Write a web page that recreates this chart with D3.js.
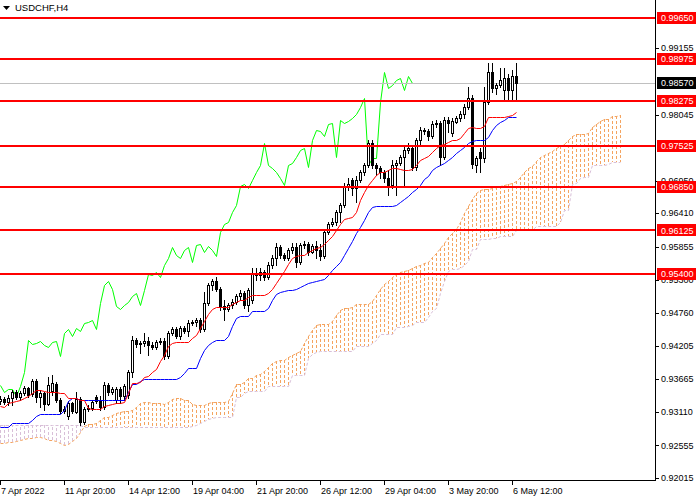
<!DOCTYPE html>
<html>
<head>
<meta charset="utf-8">
<script src="https://cdn.jsdelivr.net/npm/d3@7"></script>
<style>
body { margin: 0; background: #fff; }
svg { display: block; }
</style>
</head>
<body>
<div id="drawArea"></div>
<script>
var symbolTitle = "USDCHF,H4";

// H4 candles, bar 0 = 7 Apr 2022
var openPrices = [
0.9329,0.9333,0.9328,0.9335,0.9345,0.9336,0.9343,0.9351,0.9340,0.9362,
0.9336,0.9343,0.9324,0.9345,0.9357,0.9331,0.9312,0.9304,0.9326,0.9312,
0.9333,0.9295,0.9316,0.9318,0.9336,0.9329,0.9319,0.9356,0.9345,0.9331,
0.9350,0.9338,0.9340,0.9378,0.9431,0.9424,0.9426,0.9429,0.9423,0.9419,
0.9428,0.9429,0.9404,0.9442,0.9449,0.9437,0.9450,0.9445,0.9459,0.9461,
0.9464,0.9449,0.9492,0.9522,0.9528,0.9515,0.9487,0.9482,0.9489,0.9494,
0.9504,0.9509,0.9489,0.9497,0.9540,0.9539,0.9544,0.9535,0.9555,0.9567,
0.9585,0.9572,0.9567,0.9580,0.9585,0.9560,0.9588,0.9590,0.9577,0.9587,
0.9580,0.9570,0.9610,0.9623,0.9627,0.9644,0.9655,0.9686,0.9696,0.9683,
0.9696,0.9710,0.9722,0.9758,0.9722,0.9717,0.9710,0.9700,0.9688,0.9722,
0.9725,0.9735,0.9746,0.9749,0.9718,0.9763,0.9779,0.9777,0.9769,0.9789,
0.9791,0.9735,0.9796,0.9774,0.9793,0.9799,0.9806,0.9817,0.9832,0.9722,
0.9743,0.9733,0.9826,0.9876,0.9849,0.9854,0.9846,0.9866,0.9846,0.9869];

var highPrices = [
0.9338,0.9336,0.9340,0.9348,0.9348,0.9346,0.9354,0.9352,0.9366,0.9366,
0.9348,0.9345,0.9369,0.9373,0.9361,0.9335,0.9321,0.9329,0.9328,0.9345,
0.9336,0.9319,0.9323,0.9331,0.9340,0.9338,0.9361,0.9359,0.9352,0.9352,
0.9352,0.9357,0.9381,0.9437,0.9434,0.9429,0.9442,0.9436,0.9428,0.9431,
0.9434,0.9434,0.9445,0.9452,0.9452,0.9454,0.9454,0.9464,0.9464,0.9467,
0.9467,0.9511,0.9525,0.9532,0.9535,0.9518,0.9497,0.9492,0.9499,0.9507,
0.9514,0.9512,0.9517,0.9550,0.9550,0.9550,0.9547,0.9560,0.9572,0.9592,
0.9588,0.9575,0.9583,0.9592,0.9592,0.9592,0.9595,0.9594,0.9590,0.9595,
0.9590,0.9613,0.9627,0.9633,0.9647,0.9658,0.9691,0.9699,0.9699,0.9703,
0.9713,0.9725,0.9763,0.9763,0.9725,0.9720,0.9713,0.9713,0.9730,0.9730,
0.9738,0.9751,0.9758,0.9754,0.9766,0.9784,0.9782,0.9781,0.9794,0.9796,
0.9794,0.9801,0.9801,0.9799,0.9803,0.9811,0.9822,0.9850,0.9837,0.9737,
0.9749,0.9850,0.9891,0.9891,0.9858,0.9882,0.9882,0.9872,0.9879,0.9891];

var lowPrices = [
0.9324,0.9324,0.9323,0.9323,0.9333,0.9331,0.9340,0.9336,0.9338,0.9328,
0.9319,0.9314,0.9323,0.9340,0.9328,0.9309,0.9309,0.9299,0.9309,0.9309,
0.9290,0.9291,0.9312,0.9314,0.9326,0.9314,0.9316,0.9340,0.9341,0.9326,
0.9326,0.9331,0.9335,0.9369,0.9419,0.9409,0.9421,0.9406,0.9416,0.9416,
0.9424,0.9399,0.9401,0.9439,0.9434,0.9432,0.9442,0.9437,0.9456,0.9454,
0.9444,0.9445,0.9489,0.9514,0.9512,0.9481,0.9464,0.9479,0.9484,0.9490,
0.9497,0.9484,0.9478,0.9492,0.9530,0.9530,0.9530,0.9532,0.9550,0.9555,
0.9567,0.9564,0.9564,0.9575,0.9552,0.9557,0.9583,0.9572,0.9575,0.9567,
0.9564,0.9567,0.9606,0.9620,0.9622,0.9627,0.9652,0.9680,0.9672,0.9660,
0.9693,0.9705,0.9718,0.9717,0.9705,0.9700,0.9693,0.9672,0.9683,0.9672,
0.9722,0.9688,0.9741,0.9713,0.9713,0.9755,0.9772,0.9763,0.9766,0.9784,
0.9722,0.9732,0.9776,0.9769,0.9791,0.9794,0.9799,0.9814,0.9717,0.9710,
0.9710,0.9727,0.9822,0.9842,0.9839,0.9851,0.9829,0.9829,0.9829,0.9829];

var closePrices = [
0.9333,0.9328,0.9335,0.9345,0.9336,0.9343,0.9351,0.9340,0.9362,0.9336,
0.9343,0.9324,0.9356,0.9359,0.9331,0.9312,0.9316,0.9326,0.9312,0.9333,
0.9295,0.9316,0.9318,0.9328,0.9329,0.9319,0.9356,0.9345,0.9350,0.9350,
0.9338,0.9354,0.9378,0.9431,0.9424,0.9426,0.9429,0.9423,0.9419,0.9428,
0.9429,0.9404,0.9442,0.9449,0.9437,0.9450,0.9445,0.9459,0.9461,0.9464,
0.9449,0.9492,0.9522,0.9528,0.9515,0.9487,0.9482,0.9489,0.9494,0.9504,
0.9509,0.9489,0.9514,0.9540,0.9539,0.9544,0.9535,0.9555,0.9567,0.9585,
0.9572,0.9567,0.9580,0.9585,0.9560,0.9588,0.9590,0.9577,0.9587,0.9580,
0.9570,0.9610,0.9623,0.9627,0.9644,0.9655,0.9686,0.9689,0.9683,0.9696,
0.9710,0.9722,0.9758,0.9722,0.9717,0.9710,0.9700,0.9688,0.9722,0.9725,
0.9735,0.9746,0.9749,0.9718,0.9763,0.9779,0.9777,0.9769,0.9789,0.9791,
0.9735,0.9796,0.9791,0.9794,0.9799,0.9806,0.9817,0.9832,0.9722,0.9733,
0.9733,0.9826,0.9876,0.9849,0.9854,0.9862,0.9866,0.9846,0.9869,0.9857];

// Ichimoku lines
var tenkanSen = [
0.9321,0.9319,0.9326,0.9328,0.9329,0.9331,0.9335,0.9338,0.9343,0.9348,
0.9348,0.9346,0.9345,0.9345,0.9345,0.9343,0.9343,0.9335,0.9335,0.9335,
0.9331,0.9331,0.9318,0.9316,0.9316,0.9316,0.9321,0.9323,0.9324,0.9326,
0.9326,0.9328,0.9343,0.9359,0.9359,0.9361,0.9369,0.9371,0.9378,0.9383,
0.9395,0.9406,0.9421,0.9426,0.9428,0.9428,0.9428,0.9428,0.9434,0.9439,
0.9450,0.9462,0.9474,0.9482,0.9485,0.9485,0.9485,0.9485,0.9490,0.9494,
0.9497,0.9497,0.9502,0.9506,0.9506,0.9506,0.9506,0.9509,0.9515,0.9525,
0.9535,0.9545,0.9557,0.9567,0.9570,0.9572,0.9572,0.9577,0.9580,0.9583,
0.9585,0.9590,0.9597,0.9603,0.9613,0.9623,0.9632,0.9633,0.9635,0.9644,
0.9663,0.9677,0.9688,0.9696,0.9705,0.9710,0.9710,0.9713,0.9717,0.9717,
0.9715,0.9713,0.9713,0.9715,0.9722,0.9730,0.9733,0.9737,0.9743,0.9749,
0.9755,0.9756,0.9760,0.9763,0.9763,0.9766,0.9774,0.9782,0.9784,0.9782,
0.9782,0.9786,0.9801,0.9801,0.9801,0.9801,0.9801,0.9803,0.9804,0.9809];

var kijunSen = [
0.9286,0.9286,0.9286,0.9293,0.9293,0.9293,0.9293,0.9293,0.9298,0.9304,
0.9307,0.9307,0.9307,0.9307,0.9307,0.9307,0.9314,0.9329,0.9335,0.9335,
0.9331,0.9331,0.9331,0.9331,0.9331,0.9331,0.9331,0.9331,0.9331,0.9331,
0.9331,0.9331,0.9345,0.9357,0.9357,0.9362,0.9366,0.9366,0.9366,0.9366,
0.9366,0.9366,0.9366,0.9366,0.9366,0.9369,0.9376,0.9384,0.9384,0.9384,
0.9401,0.9414,0.9423,0.9428,0.9431,0.9431,0.9431,0.9437,0.9454,0.9467,
0.9471,0.9471,0.9471,0.9478,0.9478,0.9478,0.9478,0.9484,0.9497,0.9507,
0.9511,0.9512,0.9514,0.9514,0.9515,0.9519,0.9522,0.9525,0.9527,0.9528,
0.9530,0.9532,0.9539,0.9547,0.9554,0.9561,0.9572,0.9583,0.9595,0.9608,
0.9618,0.9630,0.9644,0.9652,0.9653,0.9653,0.9653,0.9653,0.9653,0.9655,
0.9660,0.9665,0.9670,0.9677,0.9681,0.9688,0.9698,0.9703,0.9713,0.9718,
0.9722,0.9725,0.9730,0.9735,0.9741,0.9746,0.9751,0.9758,0.9761,0.9763,
0.9763,0.9763,0.9768,0.9779,0.9788,0.9793,0.9796,0.9801,0.9801,0.9801];

// cloud runs 26 bars past the last candle
var senkouA = [
0.9260,0.9260,0.9262,0.9262,0.9263,0.9265,0.9266,0.9268,0.9268,0.9270,
0.9270,0.9268,0.9265,0.9265,0.9263,0.9260,0.9257,0.9258,0.9263,0.9268,
0.9278,0.9288,0.9291,0.9291,0.9293,0.9298,0.9303,0.9302,0.9306,0.9310,
0.9311,0.9312,0.9313,0.9315,0.9320,0.9326,0.9328,0.9327,0.9326,0.9326,
0.9326,0.9325,0.9328,0.9332,0.9335,0.9335,0.9331,0.9331,0.9324,0.9323,
0.9323,0.9323,0.9326,0.9327,0.9328,0.9328,0.9328,0.9329,0.9343,0.9358,
0.9358,0.9361,0.9368,0.9368,0.9372,0.9374,0.9380,0.9386,0.9393,0.9396,
0.9397,0.9398,0.9402,0.9406,0.9409,0.9412,0.9426,0.9438,0.9448,0.9455,
0.9458,0.9458,0.9458,0.9462,0.9472,0.9481,0.9484,0.9484,0.9486,0.9491,
0.9491,0.9491,0.9491,0.9496,0.9506,0.9516,0.9523,0.9528,0.9535,0.9540,
0.9543,0.9545,0.9547,0.9551,0.9554,0.9556,0.9558,0.9561,0.9568,0.9575,
0.9583,0.9592,0.9602,0.9608,0.9615,0.9626,0.9641,0.9653,0.9665,0.9674,
0.9679,0.9681,0.9681,0.9683,0.9685,0.9686,0.9688,0.9689,0.9691,0.9695,
0.9701,0.9709,0.9716,0.9720,0.9728,0.9734,0.9738,0.9741,0.9745,0.9749,
0.9752,0.9756,0.9763,0.9770,0.9773,0.9773,0.9773,0.9774,0.9784,0.9790,
0.9794,0.9797,0.9798,0.9802,0.9802,0.9805];

var senkouB = [
0.9290,0.9290,0.9290,0.9290,0.9290,0.9290,0.9290,0.9290,0.9290,0.9290,
0.9290,0.9290,0.9290,0.9290,0.9290,0.9290,0.9290,0.9290,0.9290,0.9290,
0.9290,0.9286,0.9286,0.9286,0.9286,0.9286,0.9286,0.9286,0.9286,0.9286,
0.9286,0.9286,0.9286,0.9286,0.9286,0.9286,0.9286,0.9286,0.9286,0.9286,
0.9286,0.9286,0.9286,0.9286,0.9286,0.9286,0.9286,0.9286,0.9288,0.9290,
0.9293,0.9296,0.9300,0.9301,0.9303,0.9303,0.9303,0.9303,0.9303,0.9336,
0.9336,0.9343,0.9346,0.9346,0.9346,0.9346,0.9346,0.9354,0.9354,0.9354,
0.9354,0.9354,0.9354,0.9373,0.9373,0.9373,0.9373,0.9400,0.9408,0.9411,
0.9412,0.9412,0.9412,0.9412,0.9412,0.9412,0.9412,0.9412,0.9412,0.9420,
0.9420,0.9420,0.9420,0.9425,0.9431,0.9441,0.9441,0.9441,0.9441,0.9452,
0.9453,0.9453,0.9454,0.9455,0.9460,0.9460,0.9460,0.9469,0.9479,0.9484,
0.9508,0.9529,0.9545,0.9549,0.9549,0.9551,0.9556,0.9562,0.9581,0.9582,
0.9598,0.9598,0.9598,0.9600,0.9600,0.9603,0.9603,0.9603,0.9604,0.9613,
0.9613,0.9613,0.9613,0.9613,0.9620,0.9620,0.9620,0.9620,0.9620,0.9620,
0.9627,0.9646,0.9646,0.9690,0.9691,0.9700,0.9701,0.9701,0.9721,0.9721,
0.9721,0.9721,0.9723,0.9727,0.9727,0.9727];

var chikouShift = 26;

var levelPrices = [0.99650, 0.98975, 0.98275, 0.97525, 0.96850, 0.96125, 0.95400];
var bidPrice = 0.98570;

// scale labels that are visible (the rest sit under the price tags)
var priceTicks = [0.99155, 0.98045, 0.96950, 0.96410, 0.95855, 0.95300,
	0.94760, 0.94205, 0.93665, 0.93110, 0.92555, 0.92015];

var timeTickBars = [0, 16, 32, 48, 64, 80, 96, 112, 128];
var timeTickLabels = ["7 Apr 2022", "11 Apr 20:00", "14 Apr 12:00", "19 Apr 04:00",
	"21 Apr 20:00", "26 Apr 12:00", "29 Apr 04:00", "3 May 20:00", "6 May 12:00"];

var svg_width = 700;
var svg_height = 500;
var plotW = 655;
var plotH = 480;
var font = "'Liberation Sans', Arial, sans-serif";

var svg = d3.select("#drawArea").append("svg")
	.attr("width", svg_width)
	.attr("height", svg_height)
	.style("font-family", font);

svg.append("rect").attr("width", svg_width).attr("height", svg_height).attr("fill", "#fff");

var x = d3.scaleLinear().domain([0, 163.75]).range([0, plotW]);
var y = d3.scaleLinear().domain([0.919818, 0.999525]).range([plotH, 0]);

function px(i){ return Math.round(x(i)) + 0.5; }
function py(v){ return Math.round(y(v)) + 0.5; }

svg.append("clipPath").attr("id", "plotClip")
	.append("rect").attr("width", plotW).attr("height", plotH);

var plot = svg.append("g").attr("clip-path", "url(#plotClip)");

// cloud: dotted vertical strokes between the two spans
var cloudColorUp = "#f4a460";
var cloudColorDown = "#d8bfd8";

plot.append("g").selectAll("line")
	.data(senkouA)
	.enter().append("line")
		.attr("x1", function(d, i){ return px(i); })
		.attr("x2", function(d, i){ return px(i); })
		.attr("y1", function(d){ return y(d); })
		.attr("y2", function(d, i){ return y(senkouB[i]); })
		.attr("stroke", function(d, i){ return d >= senkouB[i] ? cloudColorUp : cloudColorDown; })
		.attr("stroke-width", 1)
		.attr("stroke-dasharray", "3,2")
		.attr("shape-rendering", "crispEdges");

var spanLine = d3.line()
	.x(function(d, i){ return px(i); })
	.y(function(d){ return py(d); });

plot.append("path").datum(senkouB)
	.attr("d", spanLine)
	.attr("fill", "none")
	.attr("stroke", cloudColorDown)
	.attr("stroke-dasharray", "3,2");

plot.append("path").datum(senkouA)
	.attr("d", spanLine)
	.attr("fill", "none")
	.attr("stroke", cloudColorUp)
	.attr("stroke-dasharray", "3,2");

// chikou span: the closes drawn 26 bars back
var chikouLine = d3.line()
	.x(function(d){ return px(d.i - chikouShift); })
	.y(function(d){ return py(d.v); });

var chikouData = closePrices
	.map(function(v, i){ return {i: i, v: v}; })
	.filter(function(d){ return d.i >= chikouShift; });

plot.append("path").datum(chikouData)
	.attr("d", chikouLine)
	.attr("fill", "none")
	.attr("stroke", "#00ff00")
	.attr("stroke-width", 1);

// bid line
plot.append("line")
	.attr("x1", 0).attr("x2", plotW)
	.attr("y1", py(bidPrice)).attr("y2", py(bidPrice))
	.attr("stroke", "#c0c0c0")
	.attr("stroke-width", 1);

// candles
var candles = plot.append("g").selectAll("g")
	.data(closePrices)
	.enter().append("g");

candles.append("line")
	.attr("x1", function(d, i){ return px(i); })
	.attr("x2", function(d, i){ return px(i); })
	.attr("y1", function(d, i){ return Math.round(y(highPrices[i])); })
	.attr("y2", function(d, i){ return Math.round(y(lowPrices[i])) + 1; })
	.attr("stroke", "#000")
	.attr("shape-rendering", "crispEdges");

candles.append("rect")
	.attr("x", function(d, i){ return Math.round(x(i)) - 0.5; })
	.attr("width", 2)
	.attr("y", function(d, i){ return py(Math.max(d, openPrices[i])); })
	.attr("height", function(d, i){
		return Math.max(1, Math.round(Math.abs(y(d) - y(openPrices[i]))));
	})
	.attr("fill", function(d, i){ return d >= openPrices[i] ? "#fff" : "#000"; })
	.attr("stroke", "#000")
	.attr("stroke-width", 1)
	.attr("shape-rendering", "crispEdges");

// tenkan and kijun
var midLine = d3.line()
	.x(function(d, i){ return px(i); })
	.y(function(d){ return py(d); });

plot.append("path").datum(kijunSen)
	.attr("d", midLine)
	.attr("fill", "none")
	.attr("stroke", "#0000ff")
	.attr("stroke-width", 1);

plot.append("path").datum(tenkanSen)
	.attr("d", midLine)
	.attr("fill", "none")
	.attr("stroke", "#ff0000")
	.attr("stroke-width", 1);

// horizontal levels
plot.append("g").selectAll("line")
	.data(levelPrices)
	.enter().append("line")
		.attr("x1", 0).attr("x2", plotW)
		.attr("y1", function(d){ return Math.round(y(d)); })
		.attr("y2", function(d){ return Math.round(y(d)); })
		.attr("stroke", "#ff0000")
		.attr("stroke-width", 2);

// frame
svg.append("line")
	.attr("x1", plotW + 0.5).attr("x2", plotW + 0.5)
	.attr("y1", 0).attr("y2", plotH + 1)
	.attr("stroke", "#000");
svg.append("line")
	.attr("x1", 0).attr("x2", plotW + 1)
	.attr("y1", plotH + 0.5).attr("y2", plotH + 0.5)
	.attr("stroke", "#000");

// price axis
var priceAxis = svg.append("g");
priceAxis.selectAll("line")
	.data(priceTicks)
	.enter().append("line")
		.attr("x1", plotW + 1).attr("x2", plotW + 4)
		.attr("y1", py).attr("y2", py)
		.attr("stroke", "#000");
priceAxis.selectAll("text")
	.data(priceTicks)
	.enter().append("text")
		.attr("x", plotW + 6)
		.attr("y", function(d){ return y(d); })
		.attr("dy", "0.35em")
		.attr("font-size", "9px")
		.attr("fill", "#000")
		.text(function(d){ return d.toFixed(5); });

// time axis
var timeAxis = svg.append("g");
timeAxis.selectAll("line")
	.data(timeTickBars)
	.enter().append("line")
		.attr("x1", function(d){ return px(d); })
		.attr("x2", function(d){ return px(d); })
		.attr("y1", plotH + 1).attr("y2", plotH + 5)
		.attr("stroke", "#000");
timeAxis.selectAll("text")
	.data(timeTickBars)
	.enter().append("text")
		.attr("x", function(d){ return x(d) + 1; })
		.attr("y", plotH + 14)
		.attr("font-size", "9px")
		.attr("fill", "#000")
		.text(function(d, i){ return timeTickLabels[i]; });

// price tags for the levels and the bid
function priceTag(value, bg){
	var g = svg.append("g");
	g.append("rect")
		.attr("x", plotW + 2)
		.attr("y", Math.round(y(value)) - 6)
		.attr("width", 39)
		.attr("height", 12)
		.attr("fill", bg);
	g.append("text")
		.attr("x", plotW + 6)
		.attr("y", y(value))
		.attr("dy", "0.35em")
		.attr("font-size", "9px")
		.attr("fill", "#fff")
		.text(value.toFixed(5));
}
levelPrices.forEach(function(v){ priceTag(v, "#ff0000"); });
priceTag(bidPrice, "#000");

// title
svg.append("path")
	.attr("d", "M3,6L10,6L6.5,10Z")
	.attr("fill", "#000");
svg.append("text")
	.attr("x", 15)
	.attr("y", 11)
	.attr("font-size", "9.5px")
	.attr("fill", "#000")
	.text(symbolTitle);
</script>
</body>
</html>
